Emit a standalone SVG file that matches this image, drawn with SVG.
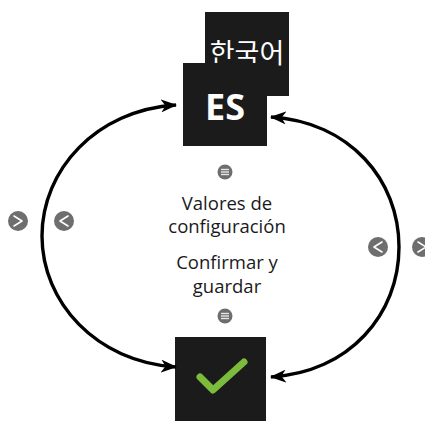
<svg xmlns="http://www.w3.org/2000/svg" width="425" height="421" viewBox="0 0 425 421">
<defs>
<style>
.box{fill:#1b1b1b}
.lbl{font-family:"Open Sans","Noto Sans",sans-serif;font-size:18.5px;fill:#1a1a1a;text-anchor:middle}
.conn{fill:none;stroke:#000;stroke-width:3.4}
.btn{fill:#6e6e6e}
.chev{fill:none;stroke:#fff;stroke-width:1.6;stroke-linecap:round;stroke-linejoin:round}
.bar{stroke:#e6e6e6;stroke-width:1.4}
</style>
<marker id="ah" viewBox="0 0 16 13" refX="15" refY="6.5" markerWidth="16" markerHeight="13" markerUnits="userSpaceOnUse" orient="auto-start-reverse">
<path d="M0,0 L16,6.5 L0,13 L4.5,6.5 Z" fill="#000"/>
</marker>
</defs>
<g id="node-korean">
<rect class="box" x="205" y="12" width="84" height="84"/>
<text x="247" y="63" font-family="'Noto Sans CJK KR',sans-serif" font-size="27" fill="#fff" text-anchor="middle">한국어</text>
</g>
<g id="node-es">
<rect class="box" x="183" y="63" width="84" height="83"/>
<text x="225" y="120" font-family="'Open Sans','Noto Sans',sans-serif" font-weight="bold" font-size="36" fill="#fff" text-anchor="middle">ES</text>
</g>
<g id="node-check">
<rect class="box" x="175" y="337" width="91" height="84"/>
<polyline points="200,377 213,390 244,362" fill="none" stroke="#7cbc3c" stroke-width="7" stroke-linecap="round" stroke-linejoin="round"/>
</g>
<g id="node-labels">
<g id="menu-top">
<circle class="btn" cx="225" cy="172" r="7.5"/>
<line class="bar" x1="221" y1="169.5" x2="229" y2="169.5"/>
<line class="bar" x1="221" y1="172" x2="229" y2="172"/>
<line class="bar" x1="221" y1="174.5" x2="229" y2="174.5"/>
</g>
<text class="lbl" x="227" y="210">Valores de</text>
<text class="lbl" x="227" y="233">configuración</text>
<text class="lbl" x="227" y="269">Confirmar y</text>
<text class="lbl" x="227" y="293">guardar</text>
<g id="menu-bottom">
<circle class="btn" cx="225" cy="316" r="7.5"/>
<line class="bar" x1="221" y1="313.5" x2="229" y2="313.5"/>
<line class="bar" x1="221" y1="316" x2="229" y2="316"/>
<line class="bar" x1="221" y1="318.5" x2="229" y2="318.5"/>
</g>
</g>
<g id="connectors">
<path class="conn" marker-start="url(#ah)" marker-end="url(#ah)" d="M176,105 C96,110 42,170 42,236 C42,302 96,362 176,367"/>
<path class="conn" marker-start="url(#ah)" marker-end="url(#ah)" d="M271,117 C350,122 399,180 399,247 C399,314 350,372 271,377"/>
</g>
<g id="buttons">
<g id="btn-left-next"><circle class="btn" cx="18" cy="221" r="10"/><polyline class="chev" points="14,216 22,221 14,226"/></g>
<g id="btn-left-prev"><circle class="btn" cx="64" cy="221" r="10"/><polyline class="chev" points="68,216 60,221 68,226"/></g>
<g id="btn-right-prev"><circle class="btn" cx="378" cy="247" r="10"/><polyline class="chev" points="382,242 374,247 382,252"/></g>
<g id="btn-right-next"><circle class="btn" cx="422" cy="247" r="10"/><polyline class="chev" points="418,242 426,247 418,252"/></g>
</g>
</svg>
